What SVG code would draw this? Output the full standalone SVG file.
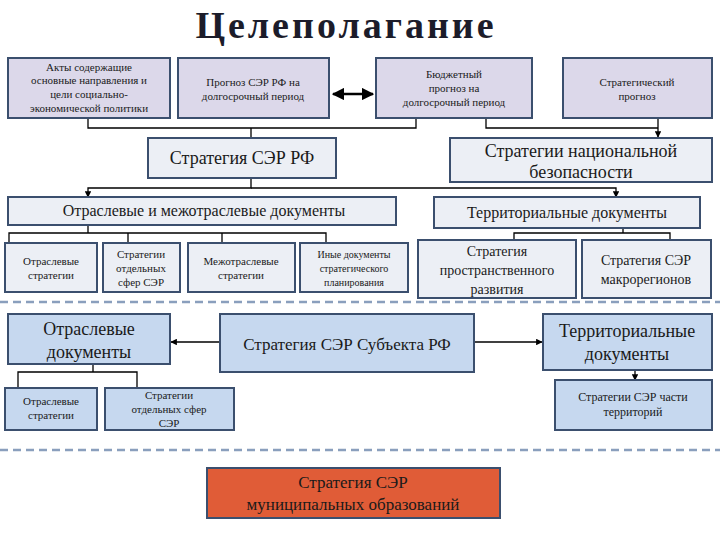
<svg xmlns="http://www.w3.org/2000/svg" width="720" height="540" viewBox="0 0 720 540">
<defs>
<style>
text{font-family:"Liberation Serif","DejaVu Serif",serif;fill:#1a1a1a;text-anchor:middle}
.top{fill:#dcd8ea;stroke:#3b4f6e;stroke-width:2}
.mid{fill:#eceff5;stroke:#3b4f6e;stroke-width:2}
.low{fill:#c6d8ef;stroke:#3b4f6e;stroke-width:2}
.org{fill:#e05c37;stroke:#3b4f6e;stroke-width:2}
.c{fill:none;stroke:#000;stroke-width:1.3}
.d{stroke:#8a9fbd;stroke-width:2.5;stroke-dasharray:8 5}
.s{font-size:11px}.m{font-size:14px}.l{font-size:18px}
</style>
<marker id="a" viewBox="0 0 10 10" refX="9" refY="5" markerWidth="5" markerHeight="5" orient="auto-start-reverse"><path d="M0,0L10,5L0,10z" fill="#000"/></marker>
</defs>
<rect width="720" height="540" fill="#fff"/>
<text x="346" y="38" style="font-size:38px;font-weight:bold;letter-spacing:3px;fill:#1c1c2a">Целеполагание</text>
<line class="d" x1="0" y1="302" x2="720" y2="302"/>
<line class="d" x1="0" y1="450" x2="720" y2="450"/>
<g id="connectors">
<path class="c" d="M88,118V128H416V118M251,128V138"/>
<path class="c" d="M486,118V128H658"/>
<path class="c" d="M658,118V137" marker-end="url(#a)"/>
<line x1="333" y1="94" x2="373" y2="94" stroke="#000" stroke-width="2.5" marker-start="url(#a)" marker-end="url(#a)"/>
<path class="c" d="M251,178V188H88V197" marker-end="url(#a)"/>
<path class="c" d="M251,188H616V197" marker-end="url(#a)"/>
<path class="c" d="M88,225V233M9,243V233H326V243M128,233V243M222,233V243"/>
<path class="c" d="M623,228V233M514,240V233H670V240"/>
<path class="c" d="M220,342H171" marker-end="url(#a)"/>
<path class="c" d="M474,342H542" marker-end="url(#a)"/>
<path class="c" d="M93,364V372M18,388V372H137V388"/>
<path class="c" d="M635,370V380" marker-end="url(#a)"/>
</g>
<g id="n1"><rect class="top" x="8" y="58" width="162" height="60"/><text class="s" x="89" y="71">Акты содержащие</text><text class="s" x="89" y="84">основные направления и</text><text class="s" x="89" y="98">цели социально-</text><text class="s" x="89" y="112">экономической политики</text></g>
<g id="n2"><rect class="top" x="178" y="58" width="151" height="60"/><text class="s" x="253" y="86">Прогноз СЭР РФ на</text><text class="s" x="253" y="100">долгосрочный период</text></g>
<g id="n3"><rect class="top" x="376" y="58" width="156" height="60"/><text class="s" x="454" y="78">Бюджетный</text><text class="s" x="454" y="92">прогноз на</text><text class="s" x="454" y="106">долгосрочный период</text></g>
<g id="n4"><rect class="top" x="563" y="58" width="149" height="60"/><text class="s" x="637" y="86">Стратегический</text><text class="s" x="637" y="100">прогноз</text></g>
<g id="n5"><rect class="mid" x="148" y="138" width="188" height="40"/><text class="l" x="242" y="164">Стратегия СЭР РФ</text></g>
<g id="n6"><rect class="mid" x="450" y="138" width="262" height="44"/><text class="l" x="581" y="157">Стратегии национальной</text><text class="l" x="581" y="178">безопасности</text></g>
<g id="n7"><rect class="mid" x="8" y="197" width="388" height="28"/><text class="m" x="204" y="216" style="font-size:16px">Отраслевые и межотраслевые документы</text></g>
<g id="n8"><rect class="mid" x="434" y="197" width="266" height="31"/><text class="m" x="567" y="218" style="font-size:16px">Территориальные документы</text></g>
<g id="n9"><rect class="mid" x="5" y="243" width="92" height="49"/><text class="s" x="51" y="265">Отраслевые</text><text class="s" x="51" y="279">стратегии</text></g>
<g id="n10"><rect class="mid" x="103" y="243" width="77" height="49"/><text class="s" x="141" y="258">Стратегии</text><text class="s" x="141" y="272">отдельных</text><text class="s" x="141" y="286">сфер СЭР</text></g>
<g id="n11"><rect class="mid" x="188" y="243" width="107" height="49"/><text class="s" x="241" y="265">Межотраслевые</text><text class="s" x="241" y="279">стратегии</text></g>
<g id="n12"><rect class="mid" x="300" y="243" width="108" height="49"/><text class="s" x="354" y="258" style="font-size:10px">Иные документы</text><text class="s" x="354" y="272" style="font-size:10px">стратегического</text><text class="s" x="354" y="286" style="font-size:10px">планирования</text></g>
<g id="n13"><rect class="mid" x="418" y="240" width="158" height="58"/><text class="m" x="497" y="256">Стратегия</text><text class="m" x="497" y="275">пространственного</text><text class="m" x="497" y="294">развития</text></g>
<g id="n14"><rect class="mid" x="582" y="240" width="129" height="58"/><text class="m" x="646" y="265">Стратегия СЭР</text><text class="m" x="646" y="284">макрорегионов</text></g>
<g id="n15"><rect class="low" x="8" y="314" width="162" height="50"/><text class="l" x="89" y="335">Отраслевые</text><text class="l" x="89" y="358">документы</text></g>
<g id="n16"><rect class="low" x="220" y="314" width="254" height="58"/><text class="l" x="347" y="350" style="font-size:17px">Стратегия СЭР Субъекта РФ</text></g>
<g id="n17"><rect class="low" x="543" y="314" width="169" height="56"/><text class="l" x="627" y="337">Территориальные</text><text class="l" x="627" y="360">документы</text></g>
<g id="n18"><rect class="low" x="5" y="388" width="92" height="42"/><text class="s" x="51" y="405">Отраслевые</text><text class="s" x="51" y="419">стратегии</text></g>
<g id="n19"><rect class="low" x="105" y="388" width="129" height="42"/><text class="s" x="169" y="399">Стратегии</text><text class="s" x="169" y="413">отдельных сфер</text><text class="s" x="169" y="427">СЭР</text></g>
<g id="n20"><rect class="low" x="555" y="380" width="157" height="50"/><text class="s" x="633" y="401" style="font-size:12px">Стратегии СЭР части</text><text class="s" x="633" y="416" style="font-size:12px">территорий</text></g>
<g id="n21"><rect class="org" x="207" y="468" width="293" height="50"/><text class="l" x="353" y="488" style="font-size:17px">Стратегия СЭР</text><text class="l" x="353" y="510" style="font-size:17px">муниципальных образований</text></g>
</svg>
